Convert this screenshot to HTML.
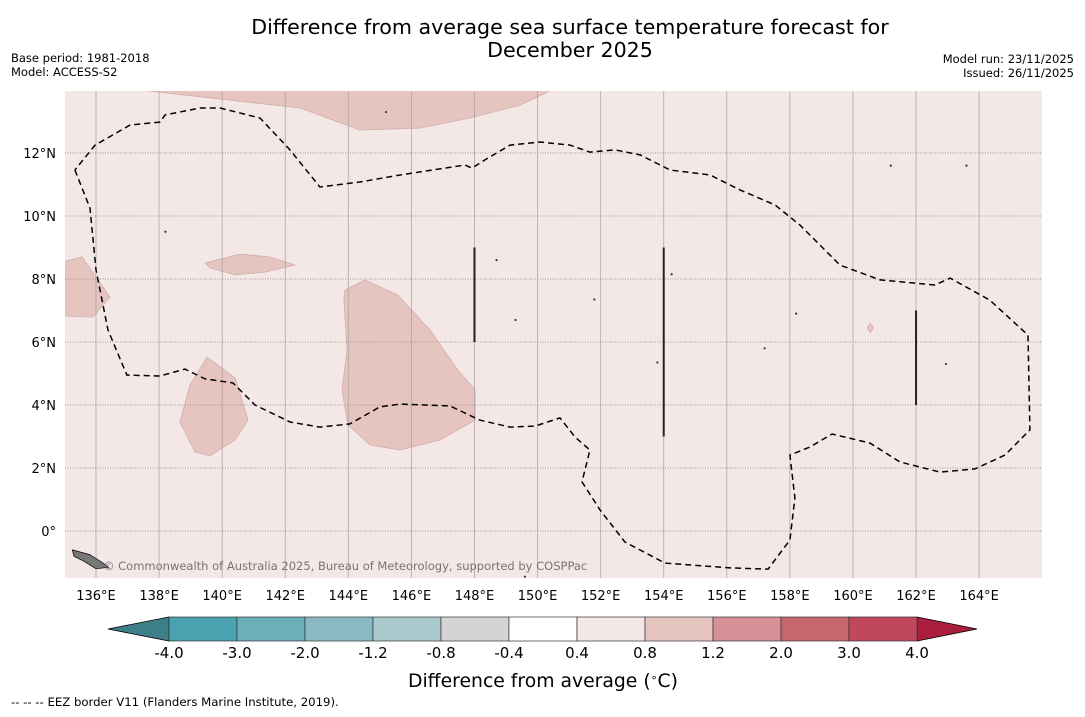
<!DOCTYPE html>
<html><head><meta charset="utf-8">
<style>
html,body{margin:0;padding:0;background:#fff;}
body{width:1085px;height:713px;overflow:hidden;font-family:"DejaVu Sans","Liberation Sans",sans-serif;}
svg text{font-family:"DejaVu Sans","Liberation Sans",sans-serif;}
</style></head>
<body>
<svg id="chart" width="1085" height="713" viewBox="0 0 1085 713" xmlns="http://www.w3.org/2000/svg">
<text x="570" y="34" font-size="20.6" text-anchor="middle">Difference from average sea surface temperature forecast for</text>
<text x="570" y="57" font-size="20.6" text-anchor="middle">December 2025</text>
<text x="11" y="62" font-size="11.5">Base period: 1981-2018</text>
<text x="11" y="76" font-size="11.5">Model: ACCESS-S2</text>
<text x="1074" y="63" font-size="11.5" text-anchor="end">Model run: 23/11/2025</text>
<text x="1074" y="77" font-size="11.5" text-anchor="end">Issued: 26/11/2025</text>
<defs><clipPath id="mapclip"><rect x="65" y="91" width="977" height="487"/></clipPath></defs>
<rect x="65" y="91" width="977" height="487" fill="#f4e8e6"/>
<g id="patches" clip-path="url(#mapclip)"></g>
<g id="grid" clip-path="url(#mapclip)"></g>
<g id="eez" clip-path="url(#mapclip)"></g>
<g id="marks" clip-path="url(#mapclip)"></g>
<g id="axes"></g>
<text x="103" y="570" font-size="11.5" fill="#7a7272">© Commonwealth of Australia 2025, Bureau of Meteorology, supported by COSPPac</text>
<g id="colorbar"></g>
<text x="543" y="687" font-size="18.8" text-anchor="middle">Difference from average (<tspan baseline-shift="super" font-size="11">∘</tspan>C)</text>
<text x="11" y="706" font-size="11.7">--  --  -- EEZ border V11 (Flanders Marine Institute, 2019).</text>
</svg>
<script>
const lonTicks=[136,138,140,142,144,146,148,150,152,154,156,158,160,162,164];
const latTicks=[0,2,4,6,8,10,12];
const latLabels=["0°","2°N","4°N","6°N","8°N","10°N","12°N"];
const cbLevels=[-4.0,-3.0,-2.0,-1.2,-0.8,-0.4,0.4,0.8,1.2,2.0,3.0,4.0];
const cbColors=["#4aa2b1","#6daebb","#8bb9c3","#aacace","#d4d4d4","#ffffff","#f4e8e6","#e6c5c1","#d69097","#c8666f","#c0485a"];
const cbUnder="#3c7f88", cbOver="#ab1e3e";
const eezLine=[[135.33,11.46],[135.81,10.25],[136.0,8.29],[136.38,6.38],[136.98,4.95],[138.03,4.92],[138.82,5.14],[139.46,4.83],[140.34,4.70],[141.04,4.0],[142.15,3.46],[143.10,3.30],[144.05,3.40],[145.0,3.94],[145.64,4.03],[147.22,3.97],[148.17,3.52],[149.13,3.30],[149.92,3.33],[150.71,3.59],[151.19,2.98],[151.66,2.57],[151.41,1.56],[151.98,0.67],[152.77,-0.35],[154.04,-1.02],[156.10,-1.17],[157.31,-1.21],[158.0,-0.29],[158.16,1.05],[158.0,2.41],[158.64,2.67],[159.34,3.08],[160.54,2.79],[161.49,2.19],[162.76,1.87],[163.87,1.97],[164.82,2.41],[165.61,3.21],[165.55,6.22],[164.34,7.33],[163.08,8.03],[162.60,7.81],[160.86,7.97],[159.59,8.44],[158.32,9.71],[157.53,10.35],[156.42,10.83],[155.47,11.30],[154.20,11.46],[153.25,11.94],[152.46,12.10],[151.66,12.03],[151.03,12.25],[150.08,12.35],[149.13,12.25],[148.33,11.78],[147.92,11.52],[147.70,11.62],[145.64,11.30],[144.37,11.08],[143.10,10.92],[142.15,12.10],[141.20,13.11],[139.93,13.43],[139.30,13.43],[138.19,13.21],[138.03,12.98],[137.08,12.89],[135.97,12.25],[135.33,11.46]];
const patchTop=[[137.65,14.2],[137.65,13.97],[142.47,13.43],[144.37,12.73],[146.28,12.79],[147.86,13.11],[149.45,13.52],[150.39,13.97],[150.6,14.2]];
const patchLeft=[[134.8,8.51],[135.56,8.70],[136.44,7.43],[135.90,6.79],[134.8,6.83]];
const patchSmall=[[139.46,8.51],[140.57,8.79],[141.52,8.70],[142.31,8.44],[141.36,8.22],[140.41,8.13],[139.62,8.35]];
const patchMid=[[139.52,5.52],[140.41,4.86],[140.82,3.52],[140.41,2.89],[139.61,2.38],[139.14,2.51],[138.66,3.46],[138.98,4.63]];
const patchBig=[[143.89,7.65],[144.53,7.97],[145.57,7.49],[146.59,6.38],[147.47,5.11],[148.02,4.48],[148.02,3.52],[146.90,2.89],[145.64,2.57],[144.69,2.73],[143.99,3.37],[143.80,4.48],[143.96,5.75],[143.86,7.33]];
const patchTiny=[[160.55,6.6],[160.65,6.45],[160.55,6.3],[160.45,6.45]];
const segLons=[148,154,162];
const segLat0=[6,3,4];
const segLat1=[9,9,7];
const islands=[[138.2,9.5],[145.2,13.3],[151.8,7.35],[154.25,8.15],[158.2,6.9],[162.95,5.3],[149.6,-1.45],[161.2,11.6],[163.6,11.6],[157.2,5.8],[153.8,5.35],[149.3,6.7],[148.7,8.6]];

function X(lon){return 96+(lon-136)*31.54;}
function Y(lat){return 531-lat*31.5;}
const NS="http://www.w3.org/2000/svg";
function mk(tag,attrs,parent){const e=document.createElementNS(NS,tag);for(const k in attrs)e.setAttribute(k,attrs[k]);parent.appendChild(e);return e;}
function pts(a){return a.map(p=>X(p[0]).toFixed(1)+","+Y(p[1]).toFixed(1)).join(" ");}

const gP=document.getElementById('patches');
[[patchTop,'patch-north'],[patchLeft,'patch-west'],[patchSmall,'patch-small'],[patchMid,'patch-mid'],[patchBig,'patch-central'],[patchTiny,'patch-tiny']].forEach(([a,n])=>{
  const e=mk('polygon',{points:pts(a),fill:'#e6c5c1',stroke:'#d2aeab','stroke-width':'0.8'},gP);
  
  
});
const gG=document.getElementById('grid');
lonTicks.forEach(l=>{
  const e=mk('line',{x1:X(l),x2:X(l),y1:91,y2:578,stroke:'#a8a0a0','stroke-width':'0.9',opacity:'0.8'},gG);
  
  
});
latTicks.forEach(l=>{
  const e=mk('line',{x1:65,x2:1042,y1:Y(l),y2:Y(l),stroke:'#8a8282','stroke-width':'1','stroke-dasharray':'1,1.5',opacity:'0.8'},gG);
  
  
});
const gE=document.getElementById('eez');
const eez=mk('polyline',{points:pts(eezLine),fill:'none',stroke:'#000','stroke-width':'1.5','stroke-dasharray':'6,4'},gE);


const gM=document.getElementById('marks');
segLons.forEach((l,i)=>{
  const e=mk('line',{x1:X(l),x2:X(l),y1:Y(segLat0[i]),y2:Y(segLat1[i]),stroke:'#222','stroke-width':'2'},gM);
  
  
});
islands.forEach(p=>{
  const e=mk('circle',{cx:X(p[0]),cy:Y(p[1]),r:1.1,fill:'#333'},gM);
  
  
});
const isl=mk('polygon',{points:pts([[135.25,-0.6],[135.8,-0.75],[136.2,-1.0],[136.4,-1.15],[136.0,-1.2],[135.6,-0.95],[135.3,-0.8]]),fill:'#777',stroke:'#000','stroke-width':'0.7'},gM);



const gA=document.getElementById('axes');
lonTicks.forEach(l=>{
  const t=mk('text',{x:X(l),y:600,'font-size':'13','text-anchor':'middle'},gA);t.textContent=l+"°E";
  
  
});
latTicks.forEach((l,i)=>{
  const t=mk('text',{x:56,y:Y(l)+5,'font-size':'13','text-anchor':'end'},gA);t.textContent=latLabels[i];
  
  
});

const gC=document.getElementById('colorbar');
const cbL=169, cbW=68, cbT=617, cbH=24;
function CX(i){return cbL+i*cbW;}
const n=cbColors.length;
const under=mk('polygon',{points:`${CX(0)},${cbT} ${108},${cbT+cbH/2} ${CX(0)},${cbT+cbH}`,fill:cbUnder,stroke:'#000','stroke-width':'0.8'},gC);


const over=mk('polygon',{points:`${CX(n)},${cbT} ${977},${cbT+cbH/2} ${CX(n)},${cbT+cbH}`,fill:cbOver,stroke:'#000','stroke-width':'0.8'},gC);


cbColors.forEach((c,i)=>{
  const r=mk('rect',{x:CX(i),y:cbT,width:cbW,height:cbH,fill:c,stroke:'#333','stroke-width':'0.7'},gC);
  
  
});
cbLevels.forEach((v,i)=>{
  const t=mk('text',{x:CX(i),y:658,'font-size':'15','text-anchor':'middle'},gC);t.textContent=v.toFixed(1);
  
  
});
</script>
</body></html>
